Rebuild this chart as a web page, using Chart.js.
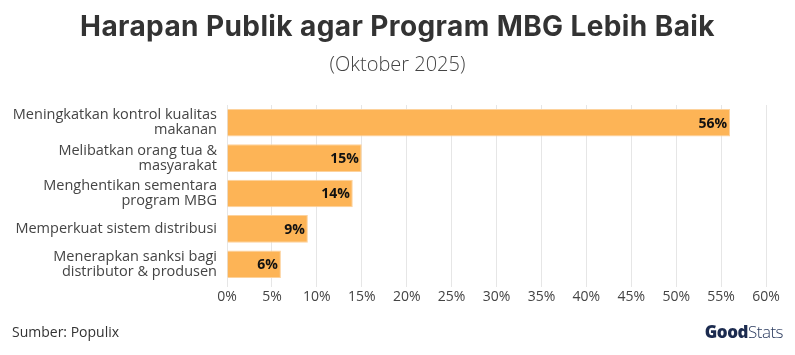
<!DOCTYPE html>
<html>
<head>
<meta charset="utf-8">
<script src="https://cdn.jsdelivr.net/npm/chart.js@4"></script>
<style>
  html, body { margin: 0; padding: 0; background: #fff; }
  #wrap { position: relative; width: 795px; height: 355px; overflow: hidden; }
  #chart { position: absolute; left: 0; top: 0; }
  .t { position: absolute; white-space: nowrap; font-family: "Open Sans", sans-serif; }
  #title { left: 0; width: 795px; text-align: center; top: 9px; font-size: 28px; font-weight: 700; color: #333; font-family: "Inter", "Open Sans", sans-serif; letter-spacing: 0.4px; }
  #sub { left: 0; width: 795px; text-align: center; top: 50px; font-size: 20px; color: #444; font-weight: 300; }
  #src { left: 12px; top: 322px; font-size: 14px; color: #333; }
  #logo { right: 12px; top: 320px; font-size: 17px; color: #1c2b4f; letter-spacing: -0.5px; }
  #logo b { font-weight: 800; }
  #logo span { font-weight: 300; color: #2a3a5e; }
</style>
</head>
<body>
<div id="wrap">
  <canvas id="chart" width="795" height="355"></canvas>
  <div class="t" id="title">Harapan Publik agar Program MBG Lebih Baik</div>
  <div class="t" id="sub">(Oktober 2025)</div>
  <div class="t" id="src">Sumber: Populix</div>
  <div class="t" id="logo"><b>Good</b><span>Stats</span></div>
</div>
<script>
const categories = [
  ["Meningkatkan kontrol kualitas", "makanan"],
  ["Melibatkan orang tua &", "masyarakat"],
  ["Menghentikan sementara", "program MBG"],
  "Memperkuat sistem distribusi",
  ["Menerapkan sanksi bagi", "distributor & produsen"]
];
const values = [56, 15, 14, 9, 6];
const xTicks = [0, 5, 10, 15, 20, 25, 30, 35, 40, 45, 50, 55, 60];

const barLabels = {
  id: 'barLabels',
  afterDatasetsDraw(chart) {
    const ctx = chart.ctx;
    const meta = chart.getDatasetMeta(0);
    ctx.save();
    ctx.font = 'bold 14px "Open Sans", sans-serif';
    ctx.fillStyle = '#111';
    ctx.textAlign = 'right';
    ctx.textBaseline = 'middle';
    meta.data.forEach((bar, i) => {
      ctx.fillText(values[i] + '%', bar.x - 3, bar.y + 1);
    });
    ctx.restore();
  }
};

new Chart(document.getElementById('chart'), {
  type: 'bar',
  data: {
    labels: categories,
    datasets: [{
      data: values,
      backgroundColor: '#FDB456',
      borderColor: '#FDD29C',
      borderWidth: 1,
      categoryPercentage: 0.78,
      barPercentage: 1.0
    }]
  },
  options: {
    indexAxis: 'y',
    responsive: false,
    animation: false,
    layout: { padding: { top: 105, bottom: 47, left: 0, right: 29 } },
    plugins: { legend: { display: false }, tooltip: { enabled: false } },
    scales: {
      x: {
        min: 0, max: 60,
        afterBuildTicks(scale) { scale.ticks = xTicks.map(v => ({ value: v })); },
        afterFit(scale) { scale.height = 26; },
        grid: { color: '#e6e6e6', lineWidth: 1, tickLength: 5, drawTicks: true },
        border: { display: false },
        ticks: {
          callback: v => v + '%',
          font: { family: '"Open Sans", sans-serif', size: 14 },
          color: '#444',
          padding: 2,
          maxRotation: 0,
          autoSkip: false
        }
      },
      y: {
        afterFit(scale) { scale.width = 227; },
        grid: { display: false },
        border: { display: false },
        ticks: {
          font: { family: '"Open Sans", sans-serif', size: 14.5, lineHeight: 1.05 },
          color: '#444',
          padding: 2,
          crossAlign: 'near'
        }
      }
    }
  },
  plugins: [barLabels]
});
</script>
</body>
</html>
